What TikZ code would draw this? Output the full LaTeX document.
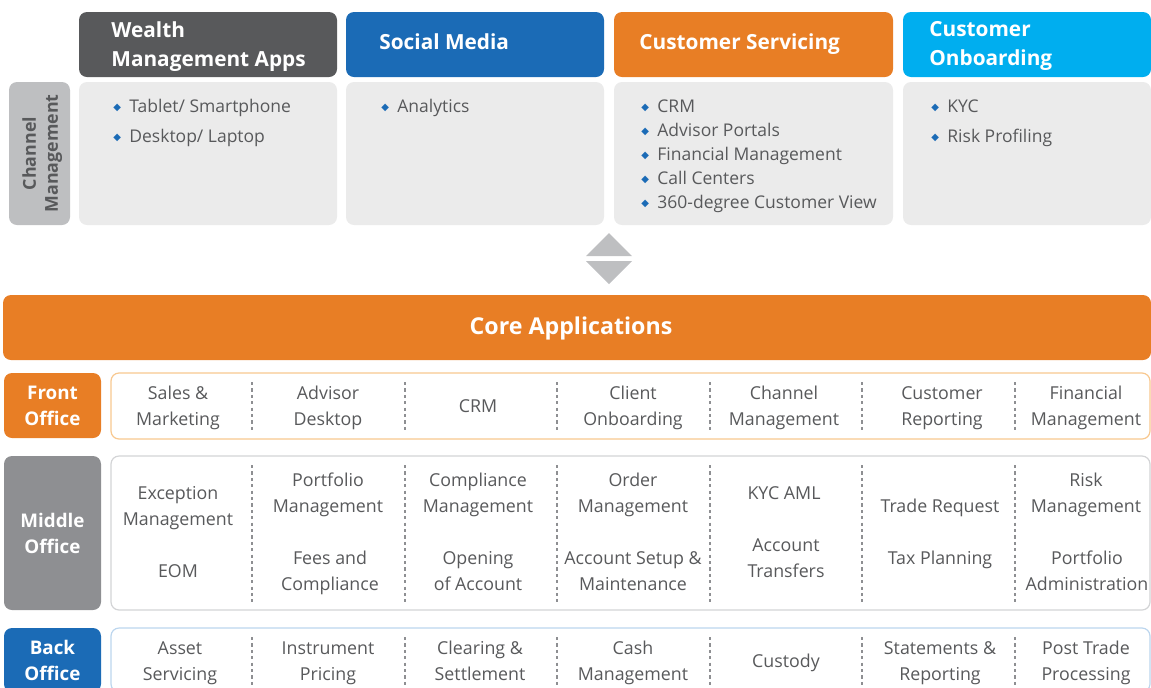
\documentclass[tikz,border=0pt]{standalone}
\usepackage{fontspec}
\setmainfont{Open Sans}
\newfontfamily\symfont{DejaVu Sans}
\usetikzlibrary{positioning}

\definecolor{txtgray}{HTML}{58595B}
\definecolor{hdgray}{HTML}{58595B}
\definecolor{hdblue}{HTML}{1B6BB6}
\definecolor{hdorange}{HTML}{E87E25}
\definecolor{hdcyan}{HTML}{00AEEF}
\definecolor{boxgray}{HTML}{EBEBEB}
\definecolor{lblgray}{HTML}{BEBFC1}
\definecolor{midgray}{HTML}{8E8F92}
\definecolor{lineorange}{HTML}{F8C88F}
\definecolor{linegray}{HTML}{D3D4D6}
\definecolor{lineblue}{HTML}{BCD6EE}

\newcommand\bul{\makebox[8pt][l]{\raisebox{1pt}{\fontsize{5}{5}\symfont\color{hdblue}◆}}}

\tikzset{
  every node/.style={font=\fontsize{8.9}{13}\selectfont, text=txtgray, inner sep=0pt},
  struts/.style={execute at begin node=\strut, execute at end node=\strut},
  block/.style={rounded corners=4pt},
  hdtext/.style={struts, anchor=west, align=left, text=white, font=\fontsize{10.4}{14.5}\selectfont\bfseries},
  item/.style={struts, anchor=west, font=\fontsize{8.75}{13}\selectfont},
  lbl/.style={block, minimum width=48.5pt},
  lbltext/.style={struts, align=center, text=white, font=\fontsize{9.4}{13}\selectfont\bfseries},
  row/.style={block, draw, line width=0.6pt, fill=white, minimum width=519.5pt},
  cell/.style={struts, align=center},
  divider/.style={midgray, line width=0.6pt, dash pattern=on 1.6pt off 1.6pt}
}

\begin{document}
\begin{tikzpicture}[x=0.5pt, y=-0.5pt]
\useasboundingbox (0,0) rectangle (1151,687);

% channel layer
\node[block, fill=hdgray, minimum width=129pt, minimum height=32.5pt] (wealth) at (208,44.5) {};
\node[block, fill=hdblue, minimum width=129pt, minimum height=32.5pt] (social) at (475,44.5) {};
\node[block, fill=hdorange, minimum width=139.5pt, minimum height=32.5pt] (servicing) at (753.5,44.5) {};
\node[block, fill=hdcyan, minimum width=124pt, minimum height=32.5pt] (onboarding) at (1027,44.5) {};

\node[hdtext] (wealthT) at (111,48.5) {Wealth\\Management Apps};
\node[hdtext] (socialT) at (379,44) {Social Media};
\node[hdtext] (servicingT) at (639,44) {Customer Servicing};
\node[hdtext] (onboardingT) at (929,47.5) {Customer\\Onboarding};

\node[block, fill=lblgray, minimum width=30.5pt, minimum height=71.5pt] (channel) at (39.5,153.5) {};
\node[struts, rotate=90, align=center, font=\fontsize{8.9}{11}\selectfont\bfseries] (channelT) at (43.5,153.5) {Channel\\Management};

\node[block, fill=boxgray, minimum width=129pt, minimum height=71.5pt] (wealthB) at (208,153.5) {};
\node[block, fill=boxgray, minimum width=129pt, minimum height=71.5pt] (socialB) at (475,153.5) {};
\node[block, fill=boxgray, minimum width=139.5pt, minimum height=71.5pt] (servicingB) at (753.5,153.5) {};
\node[block, fill=boxgray, minimum width=124pt, minimum height=71.5pt] (onboardingB) at (1027,153.5) {};

\foreach \t [count=\i] in {Tablet/ Smartphone, Desktop/ Laptop}
  \node[item] (wi\i) at (113,{77+30*\i}) {\bul\t};
\node[item] (si1) at (381,107) {\bul Analytics};
\foreach \t [count=\i] in {CRM, Advisor Portals, Financial Management, Call Centers, 360-degree Customer View}
  \node[item] (ci\i) at (641,{83+24*\i}) {\bul\t};
\foreach \t [count=\i] in {KYC, Risk Profiling}
  \node[item] (oi\i) at (931,{77+30*\i}) {\bul\t};

% link between layers
\fill[lblgray] (586,256) -- (609,233) -- (632,256) -- cycle;
\fill[lblgray] (586,261) -- (632,261) -- (609,284) -- cycle;

% core applications
\node[block, fill=hdorange, minimum width=574pt, minimum height=32.5pt] (core) at (577,327.5) {};
\node[struts, text=white, font=\fontsize{11.6}{14}\selectfont\bfseries] (coreT) at (571,328.5) {Core Applications};

\node[lbl, fill=hdorange, minimum height=32.5pt] (front) at (52.5,405.5) {};
\node[lbl, fill=midgray, minimum height=77pt] (middle) at (52.5,533) {};
\node[lbl, fill=hdblue, minimum height=32pt] (back) at (52.5,660) {};
\node[lbltext] (frontT) at (52.5,409.5) {Front\\Office};
\node[lbltext] (middleT) at (52.5,537) {Middle\\Office};
\node[lbltext] (backT) at (52.5,664) {Back\\Office};

\node[row, draw=lineorange, minimum height=33pt] (frontR) at (630.5,406) {};
\node[row, draw=linegray, minimum height=77pt] (middleR) at (630.5,533) {};
\node[row, draw=lineblue, minimum height=32pt] (backR) at (630.5,660) {};

\foreach \x in {252,405,557,710,862,1015} {
  \draw[divider] (\x,382) -- (\x,430);
  \draw[divider] (\x,465) -- (\x,602);
  \draw[divider] (\x,637) -- (\x,690);
}

% front office
\foreach \x/\y/\t [count=\i] in {178/410/{Sales \&\\Marketing}, 328/410/{Advisor\\Desktop}, 478/407/CRM,
    633/410/{Client\\Onboarding}, 784/410/{Channel\\Management}, 942/410/{Customer\\Reporting},
    1086/410/{Financial\\Management}}
  \node[cell] (f\i) at (\x,\y) {\t};

% middle office
\foreach \x/\y/\t [count=\i] in {178/510/{Exception\\Management}, 178/572/EOM,
    328/497/{Portfolio\\Management}, 330/575/{Fees and\\Compliance},
    478/497/{Compliance\\Management}, 478/575/{Opening\\of Account},
    633/497/{Order\\Management}, 633/575/{Account Setup \&\\Maintenance},
    784/494/{KYC AML}, 786/562/{Account\\Transfers},
    940/507/{Trade Request}, 940/559/{Tax Planning},
    1086/497/{Risk\\Management}, 1087/575/{Portfolio\\Administration}}
  \node[cell] (m\i) at (\x,\y) {\t};

% back office
\foreach \x/\y/\t [count=\i] in {180/665/{Asset\\Servicing}, 328/665/{Instrument\\Pricing},
    480/665/{Clearing \&\\Settlement}, 633/665/{Cash\\Management}, 786/662/Custody,
    940/665/{Statements \&\\Reporting}, 1086/665/{Post Trade\\Processing}}
  \node[cell] (b\i) at (\x,\y) {\t};
\end{tikzpicture}
\end{document}
